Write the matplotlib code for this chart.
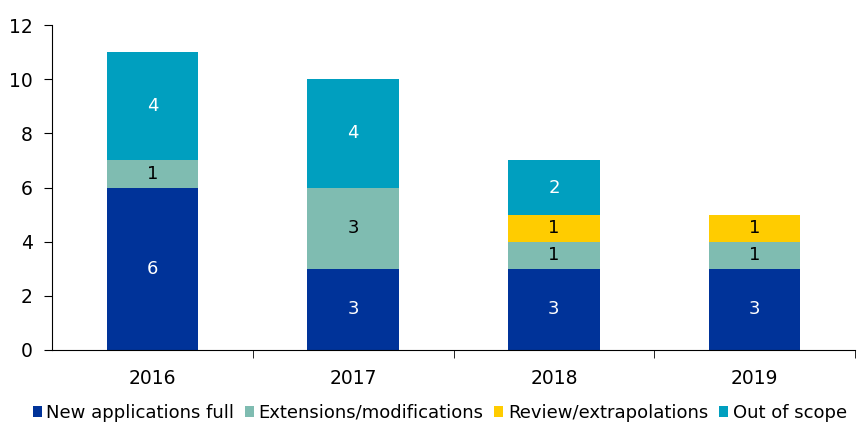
import numpy as np
import matplotlib.pyplot as plt

years = ['2016', '2017', '2018', '2019']
new_full = [6, 3, 3, 3]
extensions = [1, 3, 1, 1]
review = [0, 0, 1, 1]
out_scope = [4, 4, 2, 0]

series = [
    ('New applications full', new_full, '#003399', 'white'),
    ('Extensions/modifications', extensions, '#7fbcb1', 'black'),
    ('Review/extrapolations', review, '#ffcc00', 'black'),
    ('Out of scope', out_scope, '#009fbf', 'white'),
]

plt.rcParams['font.family'] = ['DejaVu Sans']

fig = plt.figure(figsize=(8.57, 4.23), dpi=100)
ax = fig.add_axes([0.0607, 0.1726, 0.937, 0.768])

x = np.arange(len(years))
bottom = np.zeros(len(years))
for name, vals, col, tcol in series:
    vals = np.array(vals, dtype=float)
    ax.bar(x, vals, width=0.455, bottom=bottom, color=col, label=name)
    for xi, b, v in zip(x, bottom, vals):
        if v > 0:
            ax.text(xi, b + v / 2, '%d' % v, ha='center', va='center',
                    color=tcol, fontsize=13)
    bottom += vals

ax.set_xlim(-0.5, 3.5)
ax.set_ylim(0, 12)
ax.set_yticks(range(0, 13, 2))
ax.set_xticks(x)
ax.set_xticklabels(years)
ax.set_xticks([0.5, 1.5, 2.5, 3.5], minor=True)
ax.tick_params(axis='x', which='major', length=0, pad=14, labelsize=13.5)
ax.tick_params(axis='x', which='minor', length=6, direction='out')
ax.tick_params(axis='y', length=6, direction='out', labelsize=13.5, pad=8)
for s in ['top', 'right']:
    ax.spines[s].set_visible(False)

fig.legend(loc='center', bbox_to_anchor=(0.513, 0.024), ncol=4,
           frameon=False, fontsize=13, handlelength=0.5, handleheight=0.5,
           handletextpad=0.25, columnspacing=0.6, borderaxespad=0,
           borderpad=0)

fig.savefig('out.png', dpi=100)
